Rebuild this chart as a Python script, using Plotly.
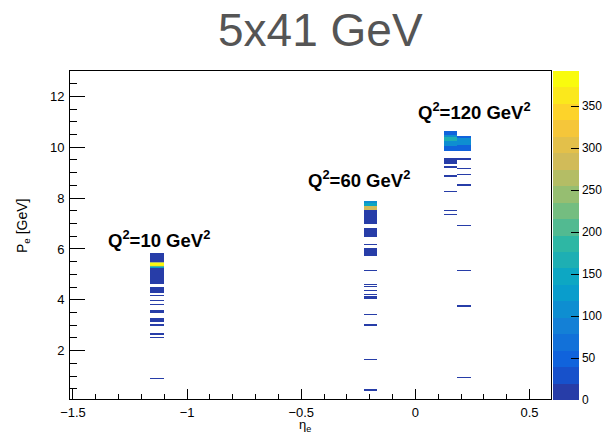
import numpy as np
import plotly.graph_objects as go

# ---------------- data ----------------
X_RANGE = [-1.513, 0.594]
Y_RANGE = [0.1, 13.0]
N_XBINS = 36
Y_BIN = 0.05

# eta position of each filled column
ETA_Q10 = -1.13
ETA_Q60 = -0.20
ETA_Q120_L = 0.15
ETA_Q120_R = 0.21

# (P_e from, P_e to, counts per bin)
RUNS_Q10 = [
    (5.50, 5.85, 15), (5.45, 5.50, 260), (5.40, 5.45, 392), (5.35, 5.40, 370),
    (5.30, 5.35, 200), (5.25, 5.30, 130), (4.65, 5.25, 15),
    (4.30, 4.50, 12), (4.15, 4.20, 8), (3.95, 4.00, 8), (3.80, 3.85, 8),
    (3.50, 3.60, 10), (3.15, 3.30, 10), (3.00, 3.05, 8), (2.65, 2.70, 8),
    (2.50, 2.55, 8), (0.90, 0.95, 5),
]
RUNS_Q60 = [
    (7.80, 7.90, 100), (7.70, 7.80, 150), (7.55, 7.70, 290), (7.00, 7.55, 15),
    (6.50, 6.85, 15), (6.15, 6.20, 8), (5.75, 6.05, 15), (5.15, 5.20, 6),
    (4.60, 4.65, 6), (4.50, 4.55, 6), (4.35, 4.40, 6), (4.20, 4.25, 6),
    (4.05, 4.15, 10), (3.40, 3.45, 5), (3.00, 3.05, 5), (1.65, 1.70, 5),
    (0.45, 0.50, 5),
]
RUNS_Q120_L = [
    (10.50, 10.65, 40), (10.40, 10.50, 110), (10.25, 10.40, 170),
    (10.05, 10.25, 110), (9.85, 10.05, 40), (9.50, 9.60, 8), (9.35, 9.50, 15),
    (9.20, 9.25, 8), (8.85, 8.90, 8), (8.25, 8.30, 8), (7.50, 7.55, 8),
    (7.35, 7.40, 8),
]
RUNS_Q120_R = [
    (10.35, 10.45, 40), (10.10, 10.35, 100), (9.85, 10.10, 40),
    (9.50, 9.60, 12), (9.15, 9.20, 8), (8.90, 8.95, 8), (8.50, 8.55, 8),
    (6.90, 6.95, 6), (5.15, 5.20, 6), (3.75, 3.80, 6), (0.95, 1.00, 6),
]

LABELS = ["Q<sup>2</sup>=10 GeV<sup>2</sup>", "Q<sup>2</sup>=60 GeV<sup>2</sup>",
          "Q<sup>2</sup>=120 GeV<sup>2</sup>"]
LABEL_POS = [(-1.125, 6.40), (-0.245, 8.74), (0.257, 11.44)]

# ---------------- build histogram ----------------
dx = (X_RANGE[1] - X_RANGE[0]) / N_XBINS
ny = int(round(Y_RANGE[1] / Y_BIN))
z = [[None] * N_XBINS for _ in range(ny)]
for eta, runs in [(ETA_Q10, RUNS_Q10), (ETA_Q60, RUNS_Q60),
                  (ETA_Q120_L, RUNS_Q120_L), (ETA_Q120_R, RUNS_Q120_R)]:
    ix = int((eta - X_RANGE[0]) / dx)
    for lo, hi, c in runs:
        for iy in range(int(round(lo / Y_BIN)), int(round(hi / Y_BIN))):
            z[iy][ix] = c

zmax = max(c for runs in [RUNS_Q10, RUNS_Q60, RUNS_Q120_L, RUNS_Q120_R] for _, _, c in runs)

# ROOT kBird palette, 20 discrete levels
stops = [0, .125, .25, .375, .5, .625, .75, .875, 1]
rr = [0.2082, 0.0592, 0.0780, 0.0232, 0.1802, 0.5301, 0.8186, 0.9956, 0.9764]
gg = [0.1664, 0.3599, 0.5041, 0.6419, 0.7178, 0.7492, 0.7328, 0.7862, 0.9832]
bb = [0.5293, 0.8684, 0.8385, 0.7914, 0.6425, 0.4662, 0.3499, 0.1968, 0.0539]
NLEV = 20
cs = []
for i in range(NLEV):
    p = min(int((i + 0.99) * 255 / NLEV), 254) / 254
    col = "rgb(%d,%d,%d)" % tuple(int(round(255 * np.interp(p, stops, ch))) for ch in (rr, gg, bb))
    cs.append([i / NLEV, col])
    cs.append([(i + 1) / NLEV, col])

FONT = "Liberation Sans, Arial, Helvetica, sans-serif"

fig = go.Figure(go.Heatmap(
    z=z, x0=X_RANGE[0] + dx / 2, dx=dx, y0=Y_BIN / 2, dy=Y_BIN,
    zmin=0, zmax=zmax, colorscale=cs, hoverongaps=False,
    colorbar=dict(
        x=1.004, xanchor="left", xpad=0, y=1, yanchor="top", ypad=0,
        lenmode="pixels", len=329, thickness=26, thicknessmode="pixels",
        outlinewidth=0, ticks="inside", ticklen=8, tickcolor="black",
        tick0=0, dtick=50, tickfont=dict(family=FONT, size=12, color="black"),
    ),
))

W, H = 605, 434
L, R, T, B = 70, 551, 71, 399

fig.update_layout(
    width=W, height=H,
    margin=dict(l=L, r=W - R, t=T, b=H - B, pad=0, autoexpand=False),
    paper_bgcolor="white", plot_bgcolor="white",
    font=dict(family=FONT, size=13, color="black"),
    showlegend=False,
    xaxis=dict(range=X_RANGE, showgrid=False, zeroline=False, showline=True,
               linecolor="black", linewidth=1, mirror=True, ticks="inside",
               ticklen=10, tickcolor="black", dtick=0.5, tick0=0,
               ticklabelstandoff=1,
               tickfont=dict(size=13, color="black"),
               minor=dict(ticks="inside", ticklen=5, dtick=0.1, tick0=0,
                          tickcolor="black", showgrid=False)),
    yaxis=dict(range=Y_RANGE, showgrid=False, zeroline=False, showline=True,
               linecolor="black", linewidth=1, mirror=True, ticks="inside",
               ticklen=15, tickcolor="black", dtick=2, tick0=0,
               ticklabelstandoff=2,
               tickfont=dict(size=13, color="black"),
               minor=dict(ticks="inside", ticklen=7, dtick=0.5, tick0=0,
                          tickcolor="black", showgrid=False)),
)

ann = []
for txt, (ax_, ay_) in zip(LABELS, LABEL_POS):
    ann.append(dict(x=ax_, y=ay_, xref="x", yref="y", text="<b>" + txt + "</b>",
                    showarrow=False, font=dict(family=FONT, size=18.5, color="black")))
ann.append(dict(x=(320 - L) / (R - L), y=(B - 30) / (B - T), xref="paper", yref="paper",
                text="5x41 GeV", showarrow=False, xanchor="center", yanchor="middle",
                font=dict(family=FONT, size=46, color="#555555")))
ann.append(dict(x=(23 - L) / (R - L), y=(B - 226) / (B - T), xref="paper", yref="paper",
                text="P<sub>e</sub> [GeV]", textangle=-90, showarrow=False,
                xanchor="center", yanchor="middle",
                font=dict(family=FONT, size=14, color="black")))
ann.append(dict(x=(305 - L) / (R - L), y=(B - 425) / (B - T), xref="paper", yref="paper",
                text="η<sub>e</sub>", showarrow=False, xanchor="center", yanchor="middle",
                borderpad=0, font=dict(family=FONT, size=13, color="black")))
fig.update_layout(annotations=ann)

fig.write_html("out.html")
